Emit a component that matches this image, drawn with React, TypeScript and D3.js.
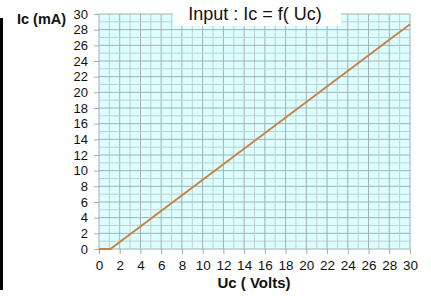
import { useEffect, useRef } from "react";
import * as d3 from "d3";

const xTicks = d3.range(0, 31, 2);
const yTicks = d3.range(0, 31, 2);
const curveUc = [0, 1.1, 30];
const curveIc = [0, 0, 28.7];

const font = "Arial, 'Liberation Sans', sans-serif";

const App: React.FC = () => {
  const svgRef = useRef<SVGSVGElement | null>(null);

  useEffect(() => {
    if (!svgRef.current) return;
    const svg = d3.select(svgRef.current);
    svg.selectAll("*").remove();

    const x = d3.scaleLinear().domain([0, 30]).range([99, 410]);
    const y = d3.scaleLinear().domain([0, 30]).range([249, 14]);

    // left black bar
    svg
      .append("rect")
      .attr("x", 0)
      .attr("y", 18)
      .attr("width", 3)
      .attr("height", 272)
      .attr("fill", "#000");

    svg
      .append("rect")
      .attr("x", x(0))
      .attr("y", y(30))
      .attr("width", x(30) - x(0))
      .attr("height", y(0) - y(30))
      .attr("fill", "#dcffff");

    const grid = svg.append("g");
    d3.range(0, 31).forEach((v) => {
      const major = v % 2 === 0;
      grid
        .append("line")
        .attr("x1", x(v))
        .attr("x2", x(v))
        .attr("y1", y(0))
        .attr("y2", y(30))
        .attr("stroke", major ? "#a3b0b0" : "#bfd0d0")
        .attr("stroke-width", 1);
      grid
        .append("line")
        .attr("x1", x(0))
        .attr("x2", x(30))
        .attr("y1", y(v))
        .attr("y2", y(v))
        .attr("stroke", major ? "#a3b0b0" : "#bfd0d0")
        .attr("stroke-width", 1);
    });

    const yAxis = svg
      .append("g")
      .attr("transform", `translate(${x(0)},0)`)
      .call(d3.axisLeft(y).tickValues(yTicks).tickSize(5).tickPadding(6));
    yAxis.select(".domain").remove();
    yAxis.selectAll("line").attr("stroke", "#aaa");
    yAxis
      .selectAll("text")
      .style("font-size", "13px")
      .style("font-family", font)
      .attr("fill", "#111");

    const xAxis = svg
      .append("g")
      .attr("transform", `translate(0,${y(0)})`)
      .call(d3.axisBottom(x).tickValues(xTicks).tickSize(5).tickPadding(6));
    xAxis.select(".domain").remove();
    xAxis.selectAll("line").attr("stroke", "#aaa");
    xAxis
      .selectAll("text")
      .style("font-size", "13.5px")
      .style("font-family", font)
      .attr("fill", "#111");

    const line = d3
      .line<number>()
      .x((d) => x(d))
      .y((_, i) => y(curveIc[i]));
    svg
      .append("path")
      .attr("d", line(curveUc))
      .attr("fill", "none")
      .attr("stroke", "#c8834a")
      .attr("stroke-width", 2);

    // title box
    svg
      .append("rect")
      .attr("x", 173)
      .attr("y", 0)
      .attr("width", 168)
      .attr("height", 26)
      .attr("fill", "#fff");
    svg
      .append("text")
      .attr("x", 255)
      .attr("y", 20)
      .attr("text-anchor", "middle")
      .style("font-size", "18px")
      .style("font-family", font)
      .attr("fill", "#111")
      .text("Input : Ic = f( Uc)");

    svg
      .append("text")
      .attr("x", 17)
      .attr("y", 24)
      .style("font-size", "14.5px")
      .style("font-weight", "bold")
      .style("font-family", font)
      .attr("fill", "#111")
      .text("Ic (mA)");

    svg
      .append("text")
      .attr("x", 254)
      .attr("y", 288)
      .attr("text-anchor", "middle")
      .style("font-size", "15px")
      .style("font-weight", "bold")
      .style("font-family", font)
      .attr("fill", "#111")
      .text("Uc ( Volts)");
  }, []);

  return (
    <svg
      ref={svgRef}
      width={431}
      height={296}
      style={{ position: "absolute", left: 0, top: 0, background: "#fff" }}
    ></svg>
  );
};

export default App;
